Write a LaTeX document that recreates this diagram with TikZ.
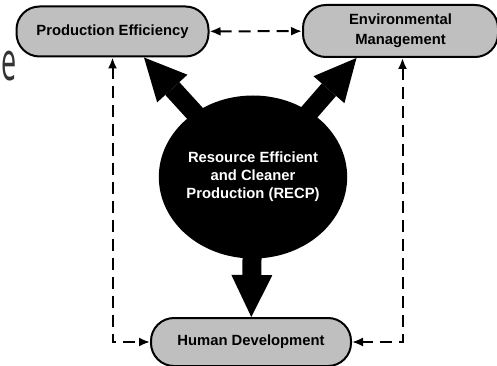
\documentclass[tikz,border=0pt]{standalone}
\usepackage{fontspec}
\setsansfont{Liberation Sans}
\newfontfamily\slidefont{Open Sans}
\usetikzlibrary{arrows.meta,shapes.geometric}

\tikzset{
	goal/.style={draw, fill=gray!50, rounded corners=23pt, minimum height=50pt,
		align=center, font=\sffamily\bfseries\fontsize{14.8}{20}\selectfont},
	core/.style={ellipse, fill=black, text=white, inner sep=0pt, align=center,
		font=\sffamily\bfseries\fontsize{14.8}{18}\selectfont},
	dasharrow/.style={dash pattern=on 12pt off 7pt,
		{Latex[length=11pt,width=9pt]}-{Latex[length=11pt,width=9pt]}},
	fatarrow/.style={line width=19pt, shorten <=-6pt,
		-{Triangle[length=42pt,width=41pt,line width=0pt]}}
}

\begin{document}
\begin{tikzpicture}[x=1pt, y=-1pt, line width=2pt]
	\useasboundingbox (0,0) rectangle (497,366);
	\node[font=\slidefont\fontsize{54}{54}\selectfont, text=black!80, anchor=base west, inner sep=0pt] (title) at (0.5,81) {\scalebox{0.5}[1]{e}};
	\node[goal, minimum width=192pt] (pe) at (112.5,31.5) {Production Efficiency};
	\node[goal, minimum width=195pt, minimum height=52pt] (em) at (400.5,31) {Environmental\\Management};
	\node[goal, minimum width=200pt, minimum height=48pt] (hd) at (251,342) {Human Development};
	\node[core, minimum width=165pt, minimum height=163pt] (recp) at (253,177) {Resource Efficient\\and Cleaner\\Production (RECP)};
	\draw[fatarrow] (recp) -- ([xshift=31.5pt]pe.south);
	\draw[fatarrow] (recp) -- ([xshift=-44pt]em.south);
	\draw[fatarrow] (recp) -- (hd);
	\draw[dasharrow] (pe) -- (em);
	\draw[dasharrow] (pe.south) |- (hd.west);
	\draw[dasharrow] ([xshift=2pt]em.south) |- (hd.east);
\end{tikzpicture}
\end{document}
